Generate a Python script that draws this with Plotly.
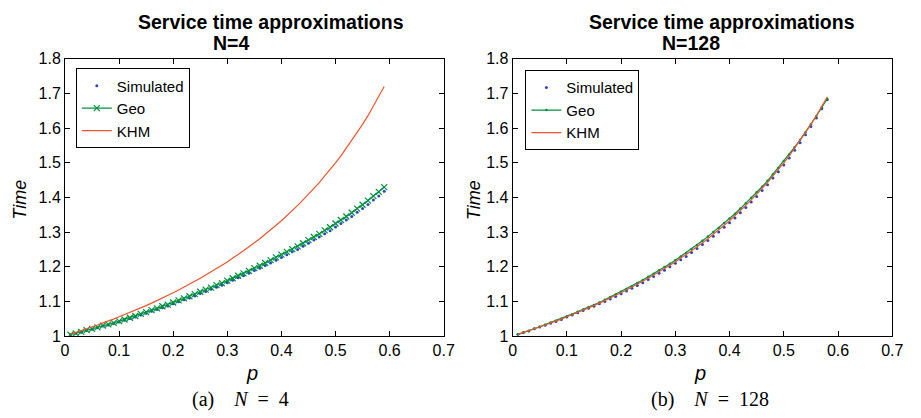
import plotly.graph_objects as go

W, H = 921, 418

# ---------------- data ----------------
p_left = [round(0.01 * i, 2) for i in range(1, 60)]
p_right = [round(0.01 * i, 2) for i in range(1, 59)]

sim_left = [1.004, 1.008, 1.011, 1.016, 1.020, 1.024, 1.029, 1.032, 1.036, 1.041,
            1.046, 1.051, 1.055, 1.061, 1.066, 1.072, 1.077, 1.082, 1.087, 1.093,
            1.099, 1.105, 1.110, 1.116, 1.123, 1.129, 1.135, 1.141, 1.147, 1.154,
            1.161, 1.168, 1.174, 1.181, 1.189, 1.196, 1.204, 1.211, 1.219, 1.227,
            1.235, 1.243, 1.250, 1.259, 1.268, 1.277, 1.286, 1.295, 1.304, 1.315,
            1.325, 1.335, 1.345, 1.357, 1.368, 1.380, 1.393, 1.404, 1.418]
geo_left = [1.004, 1.008, 1.012, 1.017, 1.021, 1.025, 1.030, 1.034, 1.038, 1.043,
            1.048, 1.053, 1.058, 1.064, 1.069, 1.075, 1.080, 1.086, 1.091, 1.097,
            1.103, 1.109, 1.115, 1.121, 1.128, 1.134, 1.140, 1.147, 1.153, 1.160,
            1.167, 1.174, 1.181, 1.188, 1.196, 1.203, 1.211, 1.219, 1.227, 1.235,
            1.243, 1.251, 1.259, 1.268, 1.277, 1.286, 1.295, 1.305, 1.314, 1.325,
            1.335, 1.345, 1.356, 1.368, 1.379, 1.391, 1.404, 1.416, 1.430]
khm_left = [1.005, 1.010, 1.015, 1.021, 1.026, 1.032, 1.038, 1.043, 1.049, 1.056,
            1.062, 1.068, 1.075, 1.081, 1.088, 1.095, 1.102, 1.110, 1.117, 1.125,
            1.133, 1.141, 1.149, 1.158, 1.167, 1.176, 1.185, 1.194, 1.204, 1.214,
            1.225, 1.235, 1.246, 1.258, 1.269, 1.281, 1.294, 1.306, 1.320, 1.333,
            1.347, 1.362, 1.377, 1.393, 1.409, 1.426, 1.443, 1.462, 1.480, 1.500,
            1.520, 1.542, 1.564, 1.587, 1.611, 1.636, 1.663, 1.690, 1.720]

sim_right = [1.005, 1.010, 1.015, 1.021, 1.026, 1.031, 1.037, 1.042, 1.048, 1.055,
             1.061, 1.067, 1.074, 1.080, 1.086, 1.093, 1.100, 1.107, 1.114, 1.122,
             1.130, 1.138, 1.146, 1.154, 1.163, 1.172, 1.181, 1.190, 1.200, 1.210,
             1.220, 1.230, 1.241, 1.253, 1.264, 1.276, 1.288, 1.300, 1.314, 1.327,
             1.341, 1.356, 1.371, 1.387, 1.403, 1.420, 1.437, 1.456, 1.474, 1.494,
             1.514, 1.536, 1.558, 1.581, 1.605, 1.629, 1.656, 1.682]
geo_right = [1.005, 1.010, 1.015, 1.021, 1.027, 1.033, 1.039, 1.044, 1.050, 1.057,
             1.063, 1.070, 1.077, 1.083, 1.090, 1.097, 1.105, 1.113, 1.120, 1.128,
             1.136, 1.144, 1.153, 1.162, 1.171, 1.180, 1.190, 1.199, 1.209, 1.219,
             1.230, 1.240, 1.251, 1.263, 1.275, 1.287, 1.300, 1.312, 1.326, 1.339,
             1.353, 1.368, 1.383, 1.399, 1.415, 1.431, 1.448, 1.467, 1.485, 1.505,
             1.524, 1.545, 1.566, 1.588, 1.611, 1.635, 1.660, 1.685]
khm_right = [1.005, 1.010, 1.015, 1.021, 1.026, 1.032, 1.038, 1.043, 1.049, 1.056,
             1.062, 1.068, 1.075, 1.081, 1.088, 1.095, 1.102, 1.110, 1.117, 1.125,
             1.133, 1.141, 1.149, 1.158, 1.167, 1.176, 1.185, 1.194, 1.204, 1.214,
             1.225, 1.235, 1.246, 1.258, 1.269, 1.281, 1.294, 1.306, 1.320, 1.333,
             1.347, 1.362, 1.377, 1.393, 1.409, 1.426, 1.443, 1.462, 1.480, 1.500,
             1.520, 1.542, 1.564, 1.587, 1.611, 1.636, 1.663, 1.690]

x_tickvals = [0, 0.1, 0.2, 0.3, 0.4, 0.5, 0.6, 0.7]
x_ticktext = ["0", "0.1", "0.2", "0.3", "0.4", "0.5", "0.6", "0.7"]
y_tickvals = [1.0, 1.1, 1.2, 1.3, 1.4, 1.5, 1.6, 1.7, 1.8]
y_ticktext = ["1", "1.1", "1.2", "1.3", "1.4", "1.5", "1.6", "1.7", "1.8"]

series_names = ["Simulated", "Geo", "KHM"]
titles = ["Service time approximations", "Service time approximations"]
subtitles = ["N=4", "N=128"]
captions = ["(a)\u2002\u2002<i>N</i>\u2002=\u20024", "(b)\u2002\u2002<i>N</i>\u2002=\u2002128"]

# ---------------- styling ----------------
BLUE = "#2b45c4"
GREEN = "#00913f"
RED = "#f2532a"
SANS = "Liberation Sans, Arial, sans-serif"
SERIF = "Liberation Serif, Times New Roman, serif"


def px(x):
    return x / W


def py(y):
    return 1 - y / H


fig = go.Figure()

# left panel
fig.add_trace(go.Scatter(x=p_left, y=sim_left, mode="markers", name=series_names[0],
                         marker=dict(color=BLUE, size=3), legend="legend",
                         xaxis="x", yaxis="y"))
fig.add_trace(go.Scatter(x=p_left, y=geo_left, mode="lines+markers", name=series_names[1],
                         line=dict(color=GREEN, width=1.2),
                         marker=dict(symbol="x-thin-open", size=6, color=GREEN,
                                     line=dict(color=GREEN, width=1.2)),
                         legend="legend", xaxis="x", yaxis="y"))
fig.add_trace(go.Scatter(x=p_left, y=khm_left, mode="lines", name=series_names[2],
                         line=dict(color=RED, width=1.2), legend="legend",
                         xaxis="x", yaxis="y"))

# right panel
fig.add_trace(go.Scatter(x=p_right, y=sim_right, mode="markers", name=series_names[0],
                         marker=dict(color=BLUE, size=3), legend="legend2",
                         xaxis="x2", yaxis="y2"))
fig.add_trace(go.Scatter(x=p_right, y=geo_right, mode="lines+markers", name=series_names[1],
                         line=dict(color=GREEN, width=1.2),
                         marker=dict(symbol="circle", size=2.5, color=GREEN),
                         legend="legend2", xaxis="x2", yaxis="y2"))
fig.add_trace(go.Scatter(x=p_right, y=khm_right, mode="lines", name=series_names[2],
                         line=dict(color=RED, width=1.2), legend="legend2",
                         xaxis="x2", yaxis="y2"))

axis_common = dict(showgrid=False, zeroline=False, showline=True, linecolor="black",
                   linewidth=1, mirror="allticks", ticks="inside", ticklen=5,
                   tickwidth=1, tickcolor="black",
                   tickfont=dict(family=SANS, size=16, color="black"))

top, bottom = 53, 342
legend_common = dict(xanchor="left", yanchor="top", bordercolor="black", borderwidth=1,
                     bgcolor="white", font=dict(family=SANS, size=15, color="black"),
                     tracegroupgap=0, itemwidth=30)
fig.update_layout(
    width=W, height=H, autosize=False,
    margin=dict(l=0, r=0, t=0, b=0),
    paper_bgcolor="white", plot_bgcolor="white",
    xaxis=dict(domain=[px(62), px(447)], range=[0, 0.7], tickvals=x_tickvals,
               ticktext=x_ticktext, anchor="y", **axis_common),
    yaxis=dict(domain=[py(bottom), py(top)], range=[1, 1.8], tickvals=y_tickvals,
               ticktext=y_ticktext, anchor="x", **axis_common),
    xaxis2=dict(domain=[px(517), px(903)], range=[0, 0.7], tickvals=x_tickvals,
                ticktext=x_ticktext, anchor="y2", **axis_common),
    yaxis2=dict(domain=[py(bottom), py(top)], range=[1, 1.8], tickvals=y_tickvals,
                ticktext=y_ticktext, anchor="x2", **axis_common),
    legend=dict(x=px(73), y=py(63), **legend_common),
    legend2=dict(x=px(530), y=py(65), **legend_common),
    showlegend=True,
)

ann = []
# titles (two lines)
for cx, cx2, t, s in [(271, 231, titles[0], subtitles[0]), (730, 698, titles[1], subtitles[1])]:
    ann.append(dict(text="<b>%s</b>" % t, x=px(cx), y=py(15), xref="paper", yref="paper",
                    xanchor="center", yanchor="middle", showarrow=False,
                    font=dict(family=SANS, size=19.5, color="black")))
    ann.append(dict(text="<b>%s</b>" % s, x=px(cx2), y=py(36), xref="paper", yref="paper",
                    xanchor="center", yanchor="middle", showarrow=False,
                    font=dict(family=SANS, size=19.5, color="black")))
# y titles
for cx in (16, 478):
    ann.append(dict(text="<i>Time</i>", x=px(cx), y=py(200), xref="paper", yref="paper",
                    xanchor="center", yanchor="middle", showarrow=False, textangle=-90,
                    font=dict(family=SANS, size=18, color="black")))
# x titles
for cx in (252, 708):
    ann.append(dict(text="<i>p</i>", x=px(cx), y=py(380), xref="paper", yref="paper",
                    xanchor="center", yanchor="middle", showarrow=False,
                    font=dict(family=SANS, size=20, color="black")))
# captions
for cx, c in [(240, captions[0]), (718, captions[1])]:
    ann.append(dict(text=c, x=px(cx), y=py(408), xref="paper", yref="paper",
                    xanchor="center", yanchor="middle", showarrow=False,
                    font=dict(family=SERIF, size=20, color="black")))
fig.update_layout(annotations=ann)

fig.write_html("out.html", config={"displayModeBar": False},
               post_script="document.body.style.margin='0px';document.body.style.overflow='hidden';")
